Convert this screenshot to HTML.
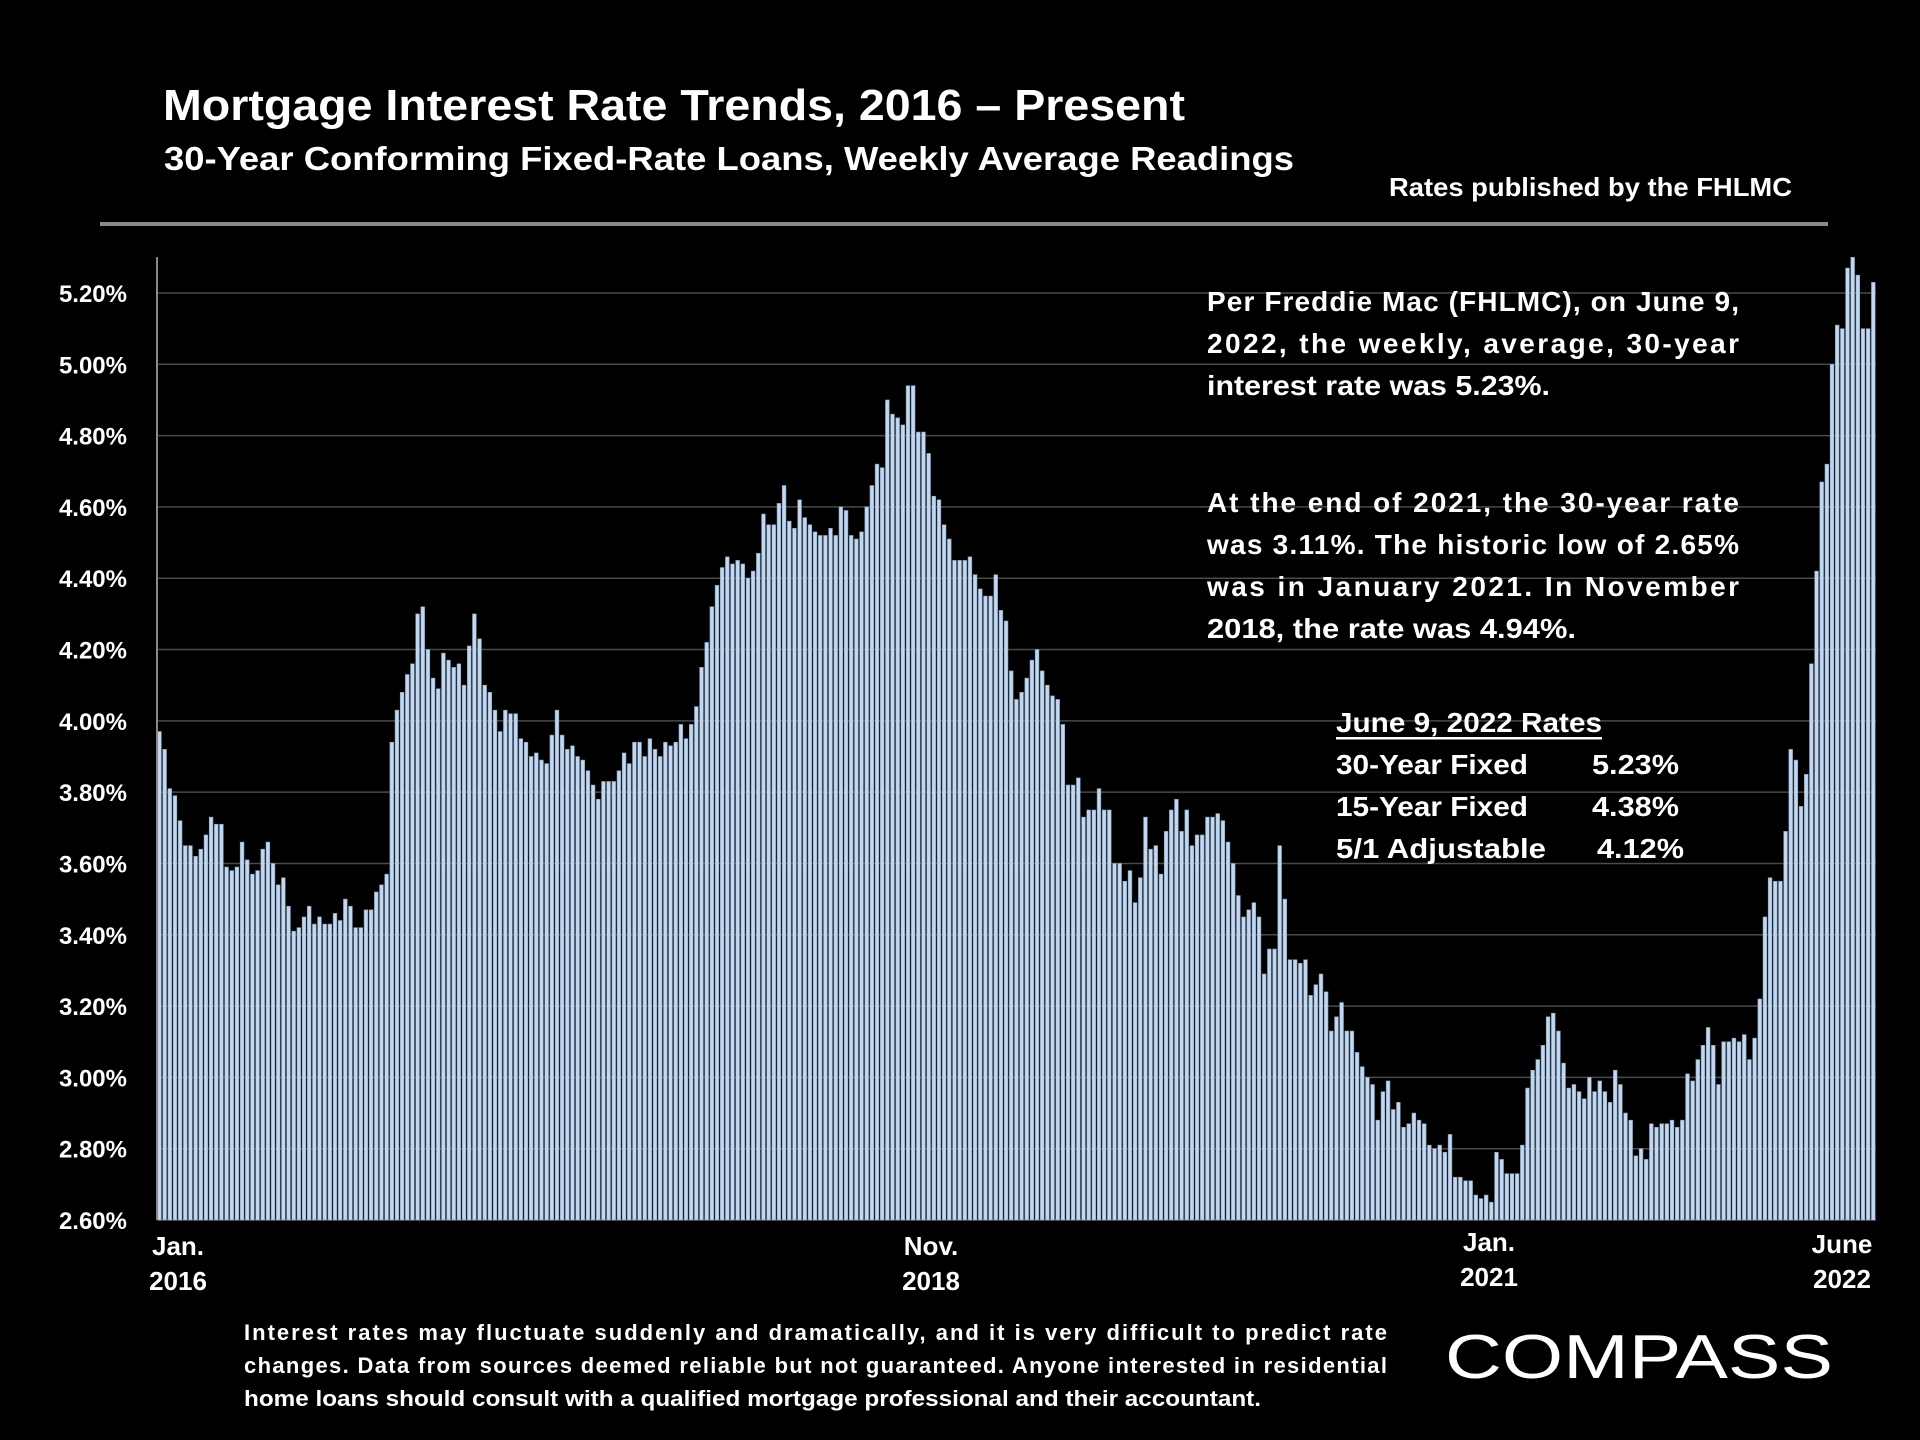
<!DOCTYPE html>
<html><head><meta charset="utf-8"><title>Mortgage Interest Rate Trends</title>
<style>
html,body{margin:0;padding:0;background:#000;}
svg{display:block;}
text{font-family:"Liberation Sans",sans-serif;font-weight:bold;fill:#fff;}
</style></head>
<body>
<svg id="chart" width="1920" height="1440" viewBox="0 0 1920 1440" xmlns="http://www.w3.org/2000/svg">
<rect width="1920" height="1440" fill="#000"/>
<text x="163" y="120" font-size="44" textLength="1022" lengthAdjust="spacingAndGlyphs">Mortgage Interest Rate Trends, 2016 – Present</text>
<text x="164" y="170" font-size="33" textLength="1130" lengthAdjust="spacingAndGlyphs">30-Year Conforming Fixed-Rate Loans, Weekly Average Readings</text>
<text x="1389" y="196" font-size="26" textLength="403" lengthAdjust="spacingAndGlyphs">Rates published by the FHLMC</text>
<rect x="100" y="222" width="1728" height="4" fill="#8a8a8a"/>
<g id="grid"></g>
<g id="yticks"></g>
<g id="bars"></g>
<line x1="157" y1="257" x2="157" y2="1220" stroke="#888" stroke-width="2"/>
<g font-size="26" text-anchor="middle">
<text x="178" y="1255">Jan.</text>
<text x="178" y="1290">2016</text>
<text x="931" y="1255">Nov.</text>
<text x="931" y="1290">2018</text>
<text x="1489" y="1251">Jan.</text>
<text x="1489" y="1286">2021</text>
<text x="1842" y="1253">June</text>
<text x="1842" y="1288">2022</text>
</g>
<g font-size="28">
<text x="1207" y="311" textLength="532" lengthAdjust="spacing">Per Freddie Mac (FHLMC), on June 9,</text>
<text x="1207" y="353" textLength="532" lengthAdjust="spacing">2022, the weekly, average, 30-year</text>
<text x="1207" y="395" textLength="343" lengthAdjust="spacingAndGlyphs">interest rate was 5.23%.</text>
<text x="1207" y="512" textLength="532" lengthAdjust="spacing">At the end of 2021, the 30-year rate</text>
<text x="1207" y="554" textLength="532" lengthAdjust="spacing">was 3.11%. The historic low of 2.65%</text>
<text x="1207" y="596" textLength="532" lengthAdjust="spacing">was in January 2021. In November</text>
<text x="1207" y="638" textLength="369" lengthAdjust="spacingAndGlyphs">2018, the rate was 4.94%.</text>
</g>
<g font-size="28">
<text x="1336" y="732" textLength="266" lengthAdjust="spacingAndGlyphs">June 9, 2022 Rates</text>
<rect x="1336" y="737" width="266" height="2.5" fill="#fff"/>
<text x="1336" y="774" textLength="192" lengthAdjust="spacingAndGlyphs">30-Year Fixed</text>
<text x="1592" y="774" textLength="87" lengthAdjust="spacingAndGlyphs">5.23%</text>
<text x="1336" y="816" textLength="192" lengthAdjust="spacingAndGlyphs">15-Year Fixed</text>
<text x="1592" y="816" textLength="87" lengthAdjust="spacingAndGlyphs">4.38%</text>
<text x="1336" y="858" textLength="210" lengthAdjust="spacingAndGlyphs">5/1 Adjustable</text>
<text x="1597" y="858" textLength="87" lengthAdjust="spacingAndGlyphs">4.12%</text>
</g>
<g font-size="22">
<text x="244" y="1340" textLength="1143" lengthAdjust="spacing">Interest rates may fluctuate suddenly and dramatically, and it is very difficult to predict rate</text>
<text x="244" y="1373" textLength="1143" lengthAdjust="spacing">changes. Data from sources deemed reliable but not guaranteed. Anyone interested in residential</text>
<text x="244" y="1406" textLength="1017" lengthAdjust="spacingAndGlyphs">home loans should consult with a qualified mortgage professional and their accountant.</text>
</g>
<g>
<text x="1445" y="1378" font-size="62" font-weight="normal" style="font-weight:normal" textLength="388" lengthAdjust="spacingAndGlyphs">COMPASS</text>
</g>
</svg>
<script>
const rates = [3.97,3.92,3.81,3.79,3.72,3.65,3.65,3.62,3.64,3.68,3.73,3.71,3.71,3.59,3.58,3.59,3.66,3.61,3.57,3.58,3.64,3.66,3.60,3.54,3.56,3.48,3.41,3.42,3.45,3.48,3.43,3.45,3.43,3.43,3.46,3.44,3.50,3.48,3.42,3.42,3.47,3.47,3.52,3.54,3.57,3.94,4.03,4.08,4.13,4.16,4.30,4.32,4.20,4.12,4.09,4.19,4.17,4.15,4.16,4.10,4.21,4.30,4.23,4.10,4.08,4.03,3.97,4.03,4.02,4.02,3.95,3.94,3.90,3.91,3.89,3.88,3.96,4.03,3.96,3.92,3.93,3.90,3.89,3.86,3.82,3.78,3.83,3.83,3.83,3.86,3.91,3.88,3.94,3.94,3.90,3.95,3.92,3.90,3.94,3.93,3.94,3.99,3.95,3.99,4.04,4.15,4.22,4.32,4.38,4.43,4.46,4.44,4.45,4.44,4.40,4.42,4.47,4.58,4.55,4.55,4.61,4.66,4.56,4.54,4.62,4.57,4.55,4.53,4.52,4.52,4.54,4.52,4.60,4.59,4.52,4.51,4.53,4.60,4.66,4.72,4.71,4.90,4.86,4.85,4.83,4.94,4.94,4.81,4.81,4.75,4.63,4.62,4.55,4.51,4.45,4.45,4.45,4.46,4.41,4.37,4.35,4.35,4.41,4.31,4.28,4.14,4.06,4.08,4.12,4.17,4.20,4.14,4.10,4.07,4.06,3.99,3.82,3.82,3.84,3.73,3.75,3.75,3.81,3.75,3.75,3.60,3.60,3.55,3.58,3.49,3.56,3.73,3.64,3.65,3.57,3.69,3.75,3.78,3.69,3.75,3.65,3.68,3.68,3.73,3.73,3.74,3.72,3.66,3.60,3.51,3.45,3.47,3.49,3.45,3.29,3.36,3.36,3.65,3.50,3.33,3.33,3.32,3.33,3.23,3.26,3.29,3.24,3.13,3.17,3.21,3.13,3.13,3.07,3.03,3.00,2.98,2.88,2.96,2.99,2.91,2.93,2.86,2.87,2.90,2.88,2.87,2.81,2.80,2.81,2.79,2.84,2.72,2.72,2.71,2.71,2.67,2.66,2.67,2.65,2.79,2.77,2.73,2.73,2.73,2.81,2.97,3.02,3.05,3.09,3.17,3.18,3.13,3.04,2.97,2.98,2.96,2.94,3.00,2.96,2.99,2.96,2.93,3.02,2.98,2.90,2.88,2.78,2.80,2.77,2.87,2.86,2.87,2.87,2.88,2.86,2.88,3.01,2.99,3.05,3.09,3.14,3.09,2.98,3.10,3.10,3.11,3.10,3.12,3.05,3.11,3.22,3.45,3.56,3.55,3.55,3.69,3.92,3.89,3.76,3.85,4.16,4.42,4.67,4.72,5.00,5.11,5.10,5.27,5.30,5.25,5.10,5.10,5.23];
const yTicks = [2.6,2.8,3.0,3.2,3.4,3.6,3.8,4.0,4.2,4.4,4.6,4.8,5.0,5.2];
const yTickLabels = ["2.60%","2.80%","3.00%","3.20%","3.40%","3.60%","3.80%","4.00%","4.20%","4.40%","4.60%","4.80%","5.00%","5.20%"];

const NS = "http://www.w3.org/2000/svg";
const X0 = 157, X1 = 1876, YBASE = 1220, YTOP = 293;
function yScale(v){ return YBASE - (v - 2.6) / (5.2 - 2.6) * (YBASE - YTOP); }
const step = (X1 - X0) / rates.length;
function xScale(i){ return X0 + i * step; }

const grid = document.getElementById('grid');
const yt = document.getElementById('yticks');
yTicks.forEach((v, i) => {
  const l = document.createElementNS(NS, 'line');
  
  
  l.setAttribute('x1', X0); l.setAttribute('x2', X1);
  l.setAttribute('y1', yScale(v)); l.setAttribute('y2', yScale(v));
  l.setAttribute('stroke', '#4a4a4a'); l.setAttribute('stroke-width', '1.5');
  grid.appendChild(l);
  const t = document.createElementNS(NS, 'text');
  
  
  t.setAttribute('x', 127); t.setAttribute('y', yScale(v) + 9);
  t.setAttribute('text-anchor', 'end'); t.setAttribute('font-size', '24');
  t.textContent = yTickLabels[i];
  yt.appendChild(t);
});

const bars = document.getElementById('bars');
rates.forEach((v, i) => {
  const r = document.createElementNS(NS, 'rect');
  
  
  const y = yScale(v);
  r.setAttribute('x', xScale(i) + 0.6);
  r.setAttribute('y', y);
  r.setAttribute('width', Math.max(step - 1.4, 1));
  r.setAttribute('height', YBASE - y);
  r.setAttribute('fill', '#c3d8ee');
  r.setAttribute('stroke', '#7f9abb');
  r.setAttribute('stroke-width', '0.6');
  bars.appendChild(r);
});
</script>
</body></html>
